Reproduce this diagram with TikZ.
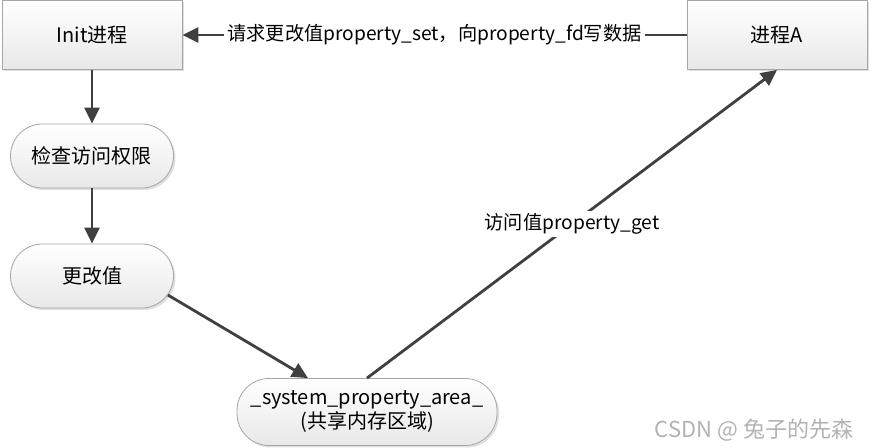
\documentclass[tikz,border=0pt]{standalone}
\usepackage{fontspec}
\setmainfont{Noto Sans CJK SC}
\usepackage{tikz}
\usetikzlibrary{arrows.meta,shadows,calc}
\begin{document}
\begin{tikzpicture}[x=0.5pt,y=-0.5pt,
            font=\fontsize{10pt}{12pt}\selectfont,
            every node/.style = {align=center, inner sep=1pt},
            procbox/.style = {shape=rectangle, draw=gray!70, line width=0.4pt,
                                minimum width=90pt, minimum height=34.5pt,
                                top color=white, bottom color=gray!18,
                                drop shadow={shadow xshift=1pt, shadow yshift=-1pt, opacity=0.25}},
            stepbox/.style = {shape=rectangle, rounded corners=16pt, draw=gray!70, line width=0.4pt,
                                minimum width=81.5pt, minimum height=32pt,
                                top color=white, bottom color=gray!18,
                                drop shadow={shadow xshift=1pt, shadow yshift=-1pt, opacity=0.25}},
            flow/.style = {draw=black!75, line width=1.4pt, -{Triangle[length=8pt,width=7.5pt]}},
            lbl/.style = {fill=white, inner sep=1.5pt, font=\fontsize{9.6pt}{12pt}\selectfont}]
            \useasboundingbox (0,0) rectangle (873,448);
            \node[procbox] (init) at (92,35) {Init进程};
            \node[procbox] (procA) at (777,35) {进程A};
            \node[stepbox] (check) at (92,156) {检查访问权限};
            \node[stepbox] (gai) at (92,276) {更改值};
            \node[stepbox, minimum width=130pt, minimum height=33.5pt] (sys) at (367,412)
                {\_system\_property\_area\_\\(共享内存区域)};
            \draw[flow] (procA.west) -- node[lbl] {请求更改值property\_set，向property\_fd写数据} (init.east);
            \draw[flow] (init) -- (check);
            \draw[flow] (check) -- (gai);
            \draw[flow] ($(gai.east)+(-6,19)$) -- ($(sys.north)+(-59,0)$);
            \draw[flow] (sys.north) -- node[lbl] {访问值property\_get} (procA.south);
            \node[text=gray!60, font=\fontsize{11pt}{13pt}\selectfont] (mark) at (754,430) {CSDN @ 兔子的先森};
        \end{tikzpicture}
\end{document}
